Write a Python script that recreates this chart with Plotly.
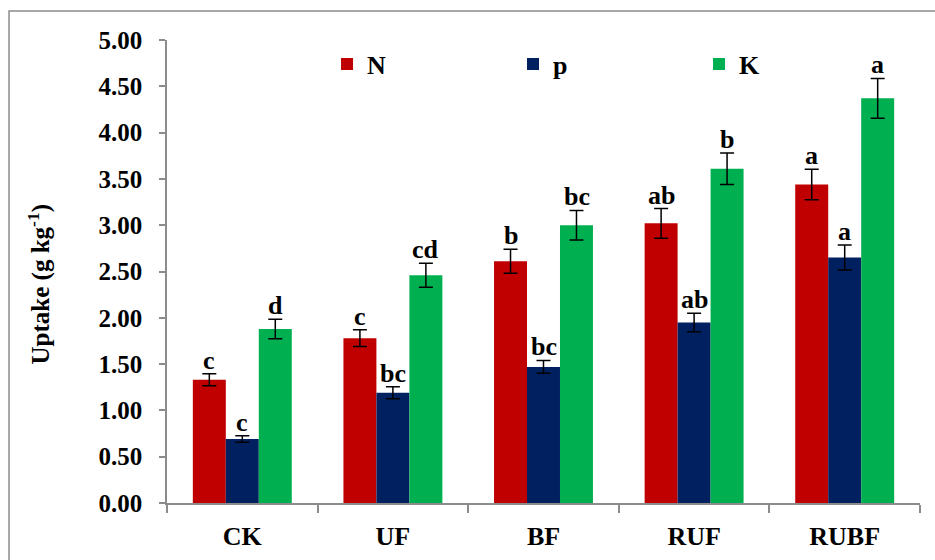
import plotly.graph_objects as go

categories = ["CK", "UF", "BF", "RUF", "RUBF"]
series_names = ["N", "p", "K"]
n_values = [1.33, 1.78, 2.61, 3.02, 3.44]
n_errors = [0.065, 0.09, 0.13, 0.16, 0.165]
p_values = [0.69, 1.19, 1.47, 1.95, 2.65]
p_errors = [0.035, 0.065, 0.07, 0.10, 0.135]
k_values = [1.88, 2.46, 3.00, 3.61, 4.37]
k_errors = [0.105, 0.13, 0.16, 0.17, 0.215]
n_letters = ["c", "c", "b", "ab", "a"]
p_letters = ["c", "bc", "bc", "ab", "a"]
k_letters = ["d", "cd", "bc", "b", "a"]
y_ticks = [0, 0.5, 1, 1.5, 2, 2.5, 3, 3.5, 4, 4.5, 5]
y_tick_text = ["0.00", "0.50", "1.00", "1.50", "2.00", "2.50", "3.00", "3.50", "4.00", "4.50", "5.00"]
y_title = "Uptake (g kg<sup>-1</sup>)"

colors = ["#C00000", "#002060", "#00B050"]
FONT = "Liberation Serif"

fig = go.Figure()
all_vals = [n_values, p_values, k_values]
all_errs = [n_errors, p_errors, k_errors]
all_letters = [n_letters, p_letters, k_letters]
for name, vals, errs, col in zip(series_names, all_vals, all_errs, colors):
    fig.add_trace(go.Bar(
        x=categories, y=vals, name="<b>%s</b>" % name,
        marker=dict(color=col, line=dict(width=0)),
        error_y=dict(type="data", array=errs, visible=True,
                     color="black", thickness=1.5, width=7),
    ))

bar_px = 33
for i, (vals, errs, letters) in enumerate(zip(all_vals, all_errs, all_letters)):
    for c, v, e, t in zip(categories, vals, errs, letters):
        fig.add_annotation(
            x=c, y=v + e, text="<b>%s</b>" % t, showarrow=False,
            xshift=(i - 1) * bar_px, yanchor="bottom", yshift=-3,
            font=dict(family=FONT, size=26, color="black"),
        )

# y-axis title placed as a rotated annotation
fig.add_annotation(
    xref="paper", yref="paper", x=-0.170, y=0.472,
    text="<b>%s</b>" % y_title, textangle=-90, showarrow=False,
    xanchor="center", yanchor="middle",
    font=dict(family=FONT, size=25, color="black"),
)

fig.add_shape(type="rect", xref="paper", yref="paper",
              x0=-0.2098, x1=1.05, y0=-0.3, y1=1.0626,
              line=dict(color="#8c8c8c", width=1.5), fillcolor="rgba(0,0,0,0)")

fig.update_layout(
    width=935, height=560,
    margin=dict(l=167, r=15, t=40, b=57, pad=0, autoexpand=False),
    paper_bgcolor="white", plot_bgcolor="white",
    barmode="group", bargap=0.343, bargroupgap=0,
    font=dict(family=FONT, color="black"),
    legend=dict(
        orientation="h", x=0.2125, xanchor="left", y=0.948, yanchor="middle",
        entrywidth=141, entrywidthmode="pixels",
        font=dict(family=FONT, size=26, color="black"),
        bgcolor="rgba(0,0,0,0)", itemclick=False,
    ),
    xaxis=dict(
        showline=True, linecolor="#8c8c8c", linewidth=1.5,
        ticks="outside", ticklen=8, tickcolor="#8c8c8c", tickwidth=1.5,
        tickson="boundaries", showgrid=False, automargin=False,
        tickfont=dict(family=FONT, size=26, color="black"),
        tickprefix="<b>", ticksuffix="</b>",
        ticklabelstandoff=9,
    ),
    yaxis=dict(
        range=[0, 5], showline=True, linecolor="#8c8c8c", linewidth=1.5,
        ticks="outside", ticklen=6, tickcolor="#8c8c8c", tickwidth=1.5,
        showgrid=False, zeroline=False, automargin=False,
        tickvals=y_ticks, ticktext=["<b>%s</b>" % t for t in y_tick_text],
        tickfont=dict(family=FONT, size=25, color="black"),
        ticklabelstandoff=12,
    ),
)

fig.write_html("out.html", config={"displayModeBar": False},
               post_script="document.body.style.margin='0';")
